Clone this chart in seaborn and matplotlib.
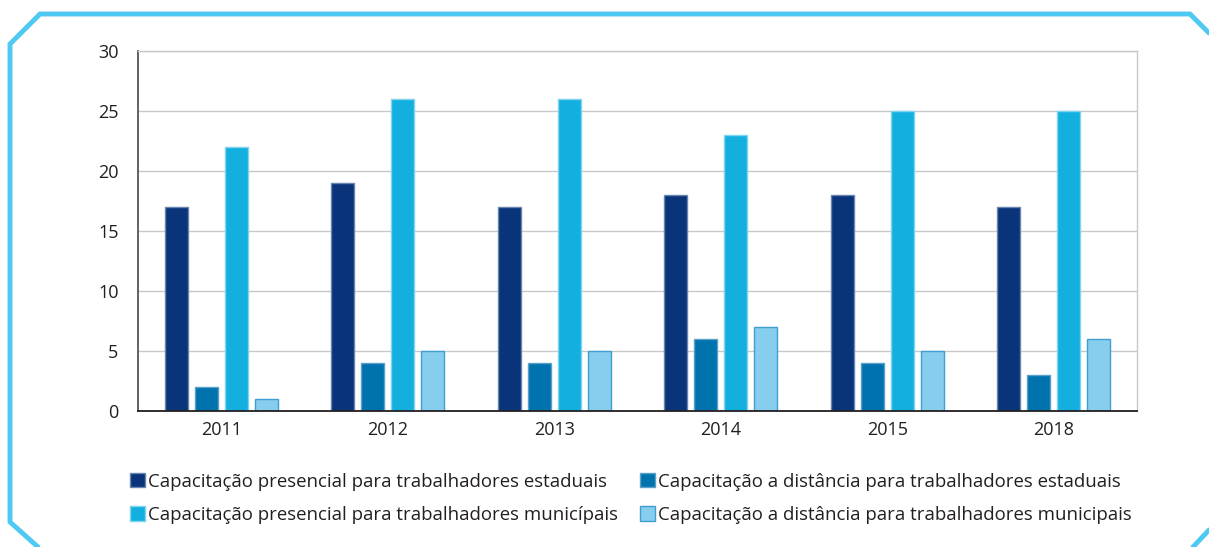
import pandas as pd
import numpy as np
import matplotlib
matplotlib.use("Agg")
import matplotlib.pyplot as plt
import seaborn as sns
from matplotlib.lines import Line2D
from matplotlib.patches import Patch

W, H = 1209, 547

anos = ["2011", "2012", "2013", "2014", "2015", "2018"]
series = [
    "Capacitação presencial para trabalhadores estaduais",
    "Capacitação a distância para trabalhadores estaduais",
    "Capacitação presencial para trabalhadores municípais",
    "Capacitação a distância para trabalhadores municipais",
]
presencial_est = [17, 19, 17, 18, 18, 17]
distancia_est = [2, 4, 4, 6, 4, 3]
presencial_mun = [22, 26, 26, 23, 25, 25]
distancia_mun = [1, 5, 5, 7, 5, 6]

NAVY = "#0A3479"
BLUE = "#0072AD"
CYAN = "#13B0DF"
LIGHT = "#87CEEE"
FRAME = "#4DC9F2"
TXT = "#231F20"
colors = [NAVY, BLUE, CYAN, LIGHT]
edges = ["#6a84b0", "#5aa0c8", "#7fd4ef", "#3f9fd2"]

df = pd.DataFrame({
    "ano": anos * 4,
    "serie": np.repeat(series, len(anos)),
    "valor": presencial_est + distancia_est + presencial_mun + distancia_mun,
})

sns.set_style("white")
plt.rcParams["font.family"] = ["Open Sans", "DejaVu Sans"]

fig = plt.figure(figsize=(W / 100, H / 100), dpi=100)
ax = fig.add_axes([138 / W, 1 - 411 / H, (1137 - 138) / W, (411 - 51) / H])

sns.barplot(data=df, x="ano", y="valor", hue="serie", hue_order=series,
            palette=colors, width=0.72, gap=0.23, ax=ax, legend=False,
            saturation=1)

# bar edges per series
n = len(anos)
for i, bar in enumerate(ax.patches[:4 * n]):
    bar.set_edgecolor(edges[i // n])
    bar.set_linewidth(1.0)

ax.set_xlim(-0.5, 5.5)
ax.set_ylim(0, 30)
ax.set_yticks(range(0, 31, 5))
ax.set_xlabel("")
ax.set_ylabel("")
ax.grid(axis="y", color="#c8c8c8", linewidth=1)
ax.set_axisbelow(True)

for s in ["top", "right"]:
    ax.spines[s].set_color("#c8c8c8")
    ax.spines[s].set_linewidth(1)
ax.spines["left"].set_color("#555555")
ax.spines["left"].set_linewidth(1.3)
ax.spines["bottom"].set_color(TXT)
ax.spines["bottom"].set_linewidth(1.3)

ax.tick_params(axis="y", length=11, width=1.2, color="#333333",
               labelsize=13, labelcolor=TXT, pad=3)
ax.set_xticks(np.arange(-0.5, 6, 1), minor=True)
ax.tick_params(axis="x", which="major", length=0, labelsize=13,
               labelcolor=TXT, pad=7)
ax.tick_params(axis="x", which="minor", length=11, width=1.2,
               color="#444444")

# legend filled row by row
order = [0, 2, 1, 3]
handles = [Patch(facecolor=colors[i], edgecolor=edges[i], linewidth=1) for i in order]
labels = [series[i] for i in order]
leg = fig.legend(handles, labels, ncol=2, frameon=False,
                 loc="upper left", bbox_to_anchor=(113 / W, 1 - 456 / H),
                 fontsize=13.4, handlelength=0.8, handleheight=0.8,
                 handletextpad=0.2, columnspacing=1.15, labelspacing=0.82)
for t in leg.get_texts():
    t.set_color(TXT)

# cyan frame with cut corners
px = [1209, 1190, 40, 10, 10, 38]
py = [33, 14, 14, 44, 522, 547]
fig.add_artist(Line2D([x / W for x in px], [1 - y / H for y in py],
                      color=FRAME, linewidth=3.5, transform=fig.transFigure,
                      solid_joinstyle="miter"))
fig.add_artist(Line2D([1193 / W, 1209 / W], [1 - 547 / H, 1 - 530 / H],
                      color=FRAME, linewidth=3.5, transform=fig.transFigure))

fig.savefig("out.png", dpi=100)
